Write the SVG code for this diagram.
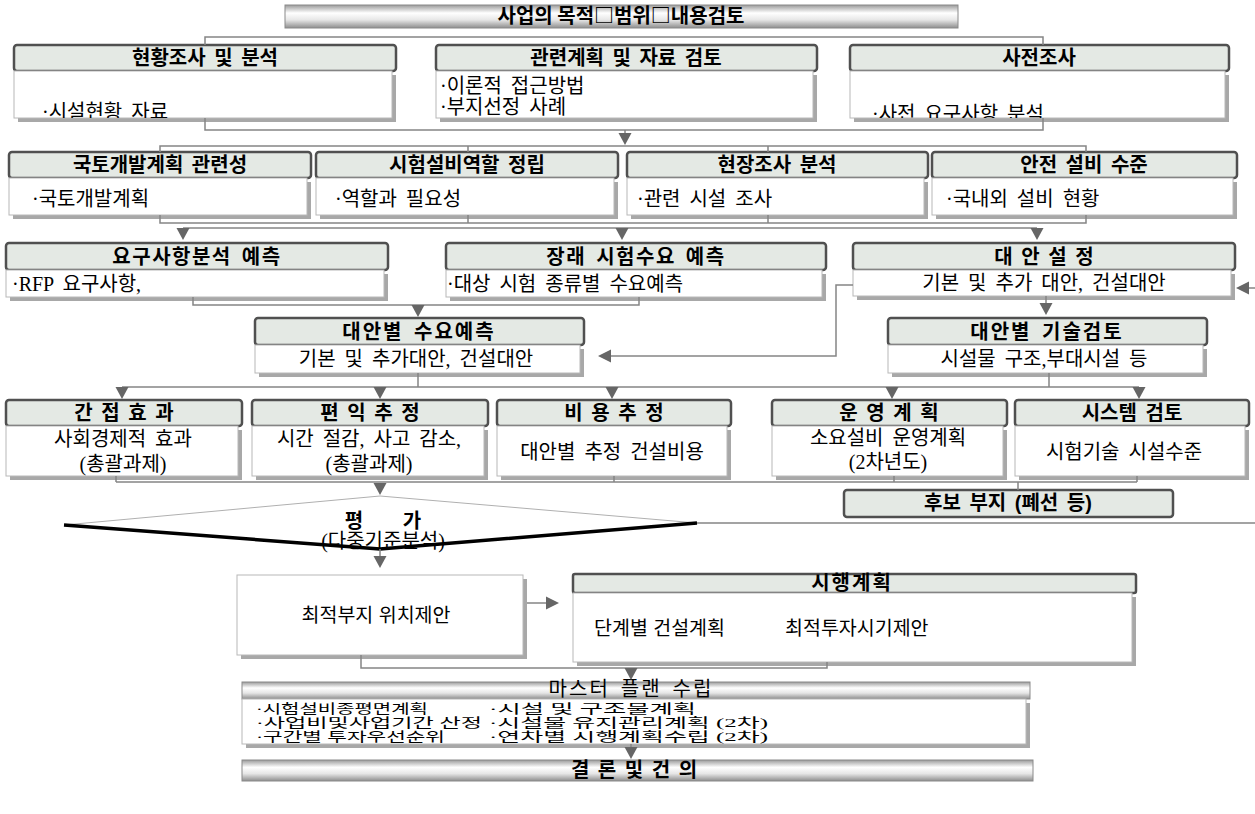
<svg xmlns="http://www.w3.org/2000/svg" xmlns:xlink="http://www.w3.org/1999/xlink" width="1255" height="814" viewBox="0 0 1255 814">
<defs>
<linearGradient id="metal" x1="0" y1="0" x2="0" y2="1">
<stop offset="0" stop-color="#9a9a9a"/>
<stop offset="0.35" stop-color="#ffffff"/>
<stop offset="0.65" stop-color="#e6e6e6"/>
<stop offset="1" stop-color="#8e8e8e"/>
</linearGradient>
<polygon id="ad" points="-6.5,0 6.5,0 0,12" fill="#666"/>
<clipPath id="clipA"><rect x="14" y="71" width="378" height="47"/></clipPath>
<clipPath id="clipC"><rect x="850" y="71" width="376" height="47"/></clipPath>
</defs>
<style>
.hdr{fill:#e4e9e4;stroke:#505050;stroke-width:2.5}
.shd{fill:#a8a8a8}
.bd{fill:#fff;stroke:#b8b8b8;stroke-width:1}
.met{fill:url(#metal);stroke:#8a8a8a;stroke-width:1}
.ht{font-family:"Liberation Sans","Noto Sans CJK KR",sans-serif;font-weight:700;font-size:20px;text-anchor:middle;fill:#000;word-spacing:3px}
.bt{font-family:"Liberation Serif","Noto Sans CJK KR",serif;font-size:20px;fill:#000;word-spacing:4px}
.st{font-family:"Liberation Sans","Noto Sans CJK KR",sans-serif;font-size:19.5px;fill:#000}
.mt{font-family:"Liberation Serif","Noto Sans CJK KR",serif;font-size:13px;fill:#000}
.mid{text-anchor:middle}
.sp{letter-spacing:1.5px}
.c{stroke:#858585;stroke-width:1.5;fill:none}
</style>

<g id="title">
<rect class="met" x="285" y="5" width="673" height="23"/>
<text x="621" y="23" font-family="Noto Sans CJK KR, sans-serif" font-weight="700" font-size="20" text-anchor="middle">사업의 목적□범위□내용검토</text>
</g>

<g id="n-hyunhwang">
<rect class="hdr" x="14" y="45" width="382" height="26" rx="3"/>
<rect class="shd" x="18" y="75" width="378" height="47"/>
<rect class="bd" x="14" y="71" width="378" height="47"/>
<text class="ht" x="205" y="65">현황조사 및 분석</text>
<text class="bt" x="42" y="119" clip-path="url(#clipA)">·시설현황 자료</text>
</g>

<g id="n-gwanryeon">
<rect class="hdr" x="436" y="45" width="381" height="26" rx="3"/>
<rect class="shd" x="440" y="75" width="377" height="47"/>
<rect class="bd" x="436" y="71" width="377" height="47"/>
<text class="ht" x="626" y="65">관련계획 및 자료 검토</text>
<text class="bt" x="440" y="93">·이론적 접근방법</text>
<text class="bt" x="440" y="114">·부지선정 사례</text>
</g>

<g id="n-sajeon">
<rect class="hdr" x="850" y="45" width="379" height="26" rx="3"/>
<rect class="shd" x="854" y="75" width="375" height="47"/>
<rect class="bd" x="850" y="71" width="375" height="47"/>
<text class="ht" x="1039" y="65">사전조사</text>
<text class="bt" x="872" y="121" clip-path="url(#clipC)">·사전 요구사항 분석</text>
</g>

<g id="n-gukto">
<rect class="hdr" x="9" y="152" width="302" height="26" rx="3"/>
<rect class="shd" x="13" y="182" width="298" height="37"/>
<rect class="bd" x="9" y="178" width="298" height="37"/>
<text class="ht" x="160" y="172">국토개발계획 관련성</text>
<text class="bt" x="32" y="206">·국토개발계획</text>
</g>

<g id="n-siheom">
<rect class="hdr" x="316" y="152" width="302" height="26" rx="3"/>
<rect class="shd" x="320" y="182" width="298" height="37"/>
<rect class="bd" x="316" y="178" width="298" height="37"/>
<text class="ht" x="467" y="172">시험설비역할 정립</text>
<text class="bt" x="335" y="206">·역할과 필요성</text>
</g>

<g id="n-hyunjang">
<rect class="hdr" x="627" y="152" width="301" height="26" rx="3"/>
<rect class="shd" x="631" y="182" width="297" height="37"/>
<rect class="bd" x="627" y="178" width="297" height="37"/>
<text class="ht" x="777" y="172">현장조사 분석</text>
<text class="bt" x="637" y="206">·관련 시설 조사</text>
</g>

<g id="n-anjeon">
<rect class="hdr" x="932" y="152" width="305" height="26" rx="3"/>
<rect class="shd" x="936" y="182" width="301" height="37"/>
<rect class="bd" x="932" y="178" width="301" height="37"/>
<text class="ht" x="1084" y="172">안전 설비 수준</text>
<text class="bt" x="946" y="206">·국내외 설비 현황</text>
</g>

<g id="n-yogu">
<rect class="hdr" x="6" y="243" width="382" height="27" rx="3"/>
<rect class="shd" x="10" y="274" width="378" height="27"/>
<rect class="bd" x="6" y="270" width="378" height="27"/>
<text class="ht sp" x="197" y="264">요구사항분석 예측</text>
<text class="bt" x="12" y="291">·RFP 요구사항,</text>
</g>

<g id="n-jangrae">
<rect class="hdr" x="446" y="243" width="380" height="27" rx="3"/>
<rect class="shd" x="450" y="274" width="376" height="27"/>
<rect class="bd" x="446" y="270" width="376" height="27"/>
<text class="ht sp" x="636" y="264">장래 시험수요 예측</text>
<text class="bt" x="447" y="291">·대상 시험 종류별 수요예측</text>
</g>

<g id="n-daean">
<rect class="hdr" x="853" y="243" width="382" height="27" rx="3"/>
<rect class="shd" x="857" y="274" width="378" height="26"/>
<rect class="bd" x="853" y="270" width="378" height="26"/>
<text class="ht" x="1044" y="264" word-spacing="5">대 안 설 정</text>
<text class="bt mid" x="1044" y="290" word-spacing="0">기본 및 추가 대안, 건설대안</text>
</g>

<g id="n-sooyo">
<rect class="hdr" x="255" y="318" width="329" height="27" rx="3"/>
<rect class="shd" x="259" y="349" width="325" height="28"/>
<rect class="bd" x="255" y="345" width="325" height="28"/>
<text class="ht" x="419" y="339" letter-spacing="2" word-spacing="8">대안별 수요예측</text>
<text class="bt mid" x="416" y="366" word-spacing="1">기본 및 추가대안, 건설대안</text>
</g>

<g id="n-gisul">
<rect class="hdr" x="888" y="318" width="319" height="27" rx="3"/>
<rect class="shd" x="892" y="349" width="315" height="28"/>
<rect class="bd" x="888" y="345" width="315" height="28"/>
<text class="ht" x="1047" y="339" letter-spacing="2" word-spacing="6">대안별 기술검토</text>
<text class="bt mid" x="1044" y="366" word-spacing="3">시설물 구조,부대시설 등</text>
</g>

<g id="n-ganjeop">
<rect class="hdr" x="6" y="400" width="236" height="26" rx="3"/>
<rect class="shd" x="10" y="430" width="232" height="50"/>
<rect class="bd" x="6" y="426" width="232" height="50"/>
<text class="ht" x="124" y="420" word-spacing="5">간 접 효 과</text>
<text class="bt mid" x="123" y="446">사회경제적 효과</text>
<text class="bt mid" x="123" y="471">(총괄과제)</text>
</g>

<g id="n-pyeonik">
<rect class="hdr" x="252" y="400" width="236" height="26" rx="3"/>
<rect class="shd" x="256" y="430" width="232" height="50"/>
<rect class="bd" x="252" y="426" width="232" height="50"/>
<text class="ht" x="370" y="420" word-spacing="5">편 익 추 정</text>
<text class="bt mid" x="369" y="446" word-spacing="2">시간 절감, 사고 감소,</text>
<text class="bt mid" x="369" y="471">(총괄과제)</text>
</g>

<g id="n-biyong">
<rect class="hdr" x="497" y="400" width="234" height="26" rx="3"/>
<rect class="shd" x="501" y="430" width="230" height="50"/>
<rect class="bd" x="497" y="426" width="230" height="50"/>
<text class="ht" x="614" y="420" word-spacing="5">비 용 추 정</text>
<text class="bt mid" x="612" y="459">대안별 추정 건설비용</text>
</g>

<g id="n-unyeong">
<rect class="hdr" x="772" y="400" width="235" height="26" rx="3"/>
<rect class="shd" x="776" y="430" width="231" height="50"/>
<rect class="bd" x="772" y="426" width="231" height="50"/>
<text class="ht" x="889" y="420" word-spacing="5">운 영 계 획</text>
<text class="bt mid" x="888" y="445">소요설비 운영계획</text>
<text class="bt mid" x="888" y="469">(2차년도)</text>
</g>

<g id="n-system">
<rect class="hdr" x="1015" y="400" width="234" height="26" rx="3"/>
<rect class="shd" x="1019" y="430" width="230" height="50"/>
<rect class="bd" x="1015" y="426" width="230" height="50"/>
<text class="ht" x="1132" y="420">시스템 검토</text>
<text class="bt mid" x="1124" y="459">시험기술 시설수준</text>
</g>

<g id="n-hubo">
<rect class="hdr" x="844" y="490" width="329" height="27" rx="3"/>
<text class="ht" x="1008" y="510">후보 부지 (폐선 등)</text>
</g>

<g id="n-pyeongga">
<polygon points="64,525 380,496 697,523 380,549" fill="#fff" stroke="none"/>
<polyline points="64,525 380,496 697,523" fill="none" stroke="#b0b0b0" stroke-width="1"/>
<text class="ht" x="354" y="528" font-size="24">평</text>
<text class="ht" x="412" y="528" font-size="24">가</text>
<text class="bt mid" x="383" y="548">(다중기준분석)</text>
<polyline points="64,525 380,549 697,523" fill="none" stroke="#000" stroke-width="3.5" stroke-linejoin="round"/>
</g>

<g id="n-choijeok">
<rect class="shd" x="241" y="579" width="286" height="80"/>
<rect class="bd" x="237" y="575" width="286" height="80"/>
<text class="st mid" x="376" y="622" font-size="21">최적부지 위치제안</text>
</g>

<g id="n-sihaeng">
<rect class="hdr" x="573" y="574" width="563" height="19" rx="2"/>
<rect class="shd" x="577" y="597" width="559" height="69"/>
<rect class="bd" x="573" y="593" width="559" height="69"/>
<text class="ht" x="852" y="590" font-size="19" letter-spacing="2">시행계획</text>
<text class="st" x="594" y="635">단계별 건설계획</text>
<text class="st" x="785" y="635">최적투자시기제안</text>
</g>

<g id="n-master">
<rect class="met" x="242" y="682" width="788" height="17"/>
<text class="bt mid" x="631" y="696" font-size="15" letter-spacing="2" word-spacing="6">마스터 플랜 수립</text>
<rect class="shd" x="246" y="703" width="784" height="45"/>
<rect class="bd" x="242" y="699" width="784" height="45"/>
<text class="mt" x="256" y="713" textLength="172" lengthAdjust="spacingAndGlyphs">·시험설비종평면계획</text>
<text class="mt" x="256" y="727" textLength="226" lengthAdjust="spacingAndGlyphs">·사업비및사업기간 산정</text>
<text class="mt" x="256" y="741" textLength="189" lengthAdjust="spacingAndGlyphs">·구간별 투자우선순위</text>
<text class="mt" x="489" y="713" textLength="207" lengthAdjust="spacingAndGlyphs">·시설 및 구조물계획</text>
<text class="mt" x="489" y="727" textLength="279" lengthAdjust="spacingAndGlyphs">·시설물 유지관리계획 (2차)</text>
<text class="mt" x="489" y="741" textLength="279" lengthAdjust="spacingAndGlyphs">·연차별 시행계획수립 (2차)</text>
</g>

<g id="n-gyeollon">
<rect class="met" x="242" y="760" width="791" height="21"/>
<text class="ht" x="634" y="777" font-size="18" word-spacing="7">결 론 및 건 의</text>
</g>

<g id="connectors">
<polyline class="c" points="205,45 205,37 1043,37 1043,45"/>
<polyline class="c" points="205,118 205,130 1043,130 1043,118"/>
<line class="c" x1="625" y1="130" x2="625" y2="134"/>
<use xlink:href="#ad" x="625" y="133"/>

<polyline class="c" points="160,152 160,146 1086,146 1086,152"/>
<line class="c" x1="468" y1="146" x2="468" y2="152"/>
<line class="c" x1="768" y1="146" x2="768" y2="152"/>
<polyline class="c" points="160,215 160,223 1086,223 1086,215"/>
<line class="c" x1="468" y1="215" x2="468" y2="223"/>
<line class="c" x1="768" y1="215" x2="768" y2="223"/>
<line class="c" x1="183" y1="228" x2="1037" y2="228"/>
<use xlink:href="#ad" x="183" y="228"/>
<use xlink:href="#ad" x="622" y="228"/>
<use xlink:href="#ad" x="1037" y="228"/>

<polyline class="c" points="193,297 193,305 639,305 639,297"/>
<use xlink:href="#ad" x="418" y="305"/>
<line class="c" x1="1046" y1="296" x2="1046" y2="303"/>
<use xlink:href="#ad" x="1046" y="303"/>
<polyline class="c" points="853,285 836,285 836,356 611,356"/>
<polygon points="598,356 611,349.5 611,362.5" fill="#666"/>
<line class="c" x1="1249" y1="288" x2="1255" y2="288"/>
<polygon points="1236,288 1249,281.5 1249,294.5" fill="#666"/>

<line class="c" x1="418" y1="373" x2="418" y2="387"/>
<line class="c" x1="1049" y1="373" x2="1049" y2="387"/>
<line class="c" x1="122" y1="387" x2="1139" y2="387"/>
<use xlink:href="#ad" x="122" y="387"/>
<use xlink:href="#ad" x="380" y="387"/>
<use xlink:href="#ad" x="612" y="387"/>
<use xlink:href="#ad" x="892" y="387"/>
<use xlink:href="#ad" x="1139" y="387"/>

<line class="c" x1="116" y1="476" x2="116" y2="482"/>
<line class="c" x1="614" y1="476" x2="614" y2="482"/>
<line class="c" x1="894" y1="476" x2="894" y2="482"/>
<line class="c" x1="1137" y1="476" x2="1137" y2="482"/>
<line class="c" x1="116" y1="482" x2="1137" y2="482"/>
<line class="c" x1="1018" y1="482" x2="1018" y2="490"/>
<use xlink:href="#ad" x="380" y="483"/>
<line class="c" x1="697" y1="523" x2="1255" y2="523"/>

<line class="c" x1="380" y1="549" x2="380" y2="556"/>
<use xlink:href="#ad" x="380" y="556"/>

<line class="c" x1="527" y1="603" x2="546" y2="603"/>
<polygon points="559,603 546,596.5 546,609.5" fill="#666"/>

<polyline class="c" points="361,655 361,668 827,668 827,662"/>
<use xlink:href="#ad" x="631" y="668"/>

<line class="c" x1="631" y1="744" x2="631" y2="748"/>
<use xlink:href="#ad" x="631" y="747"/>
</g>
</svg>
